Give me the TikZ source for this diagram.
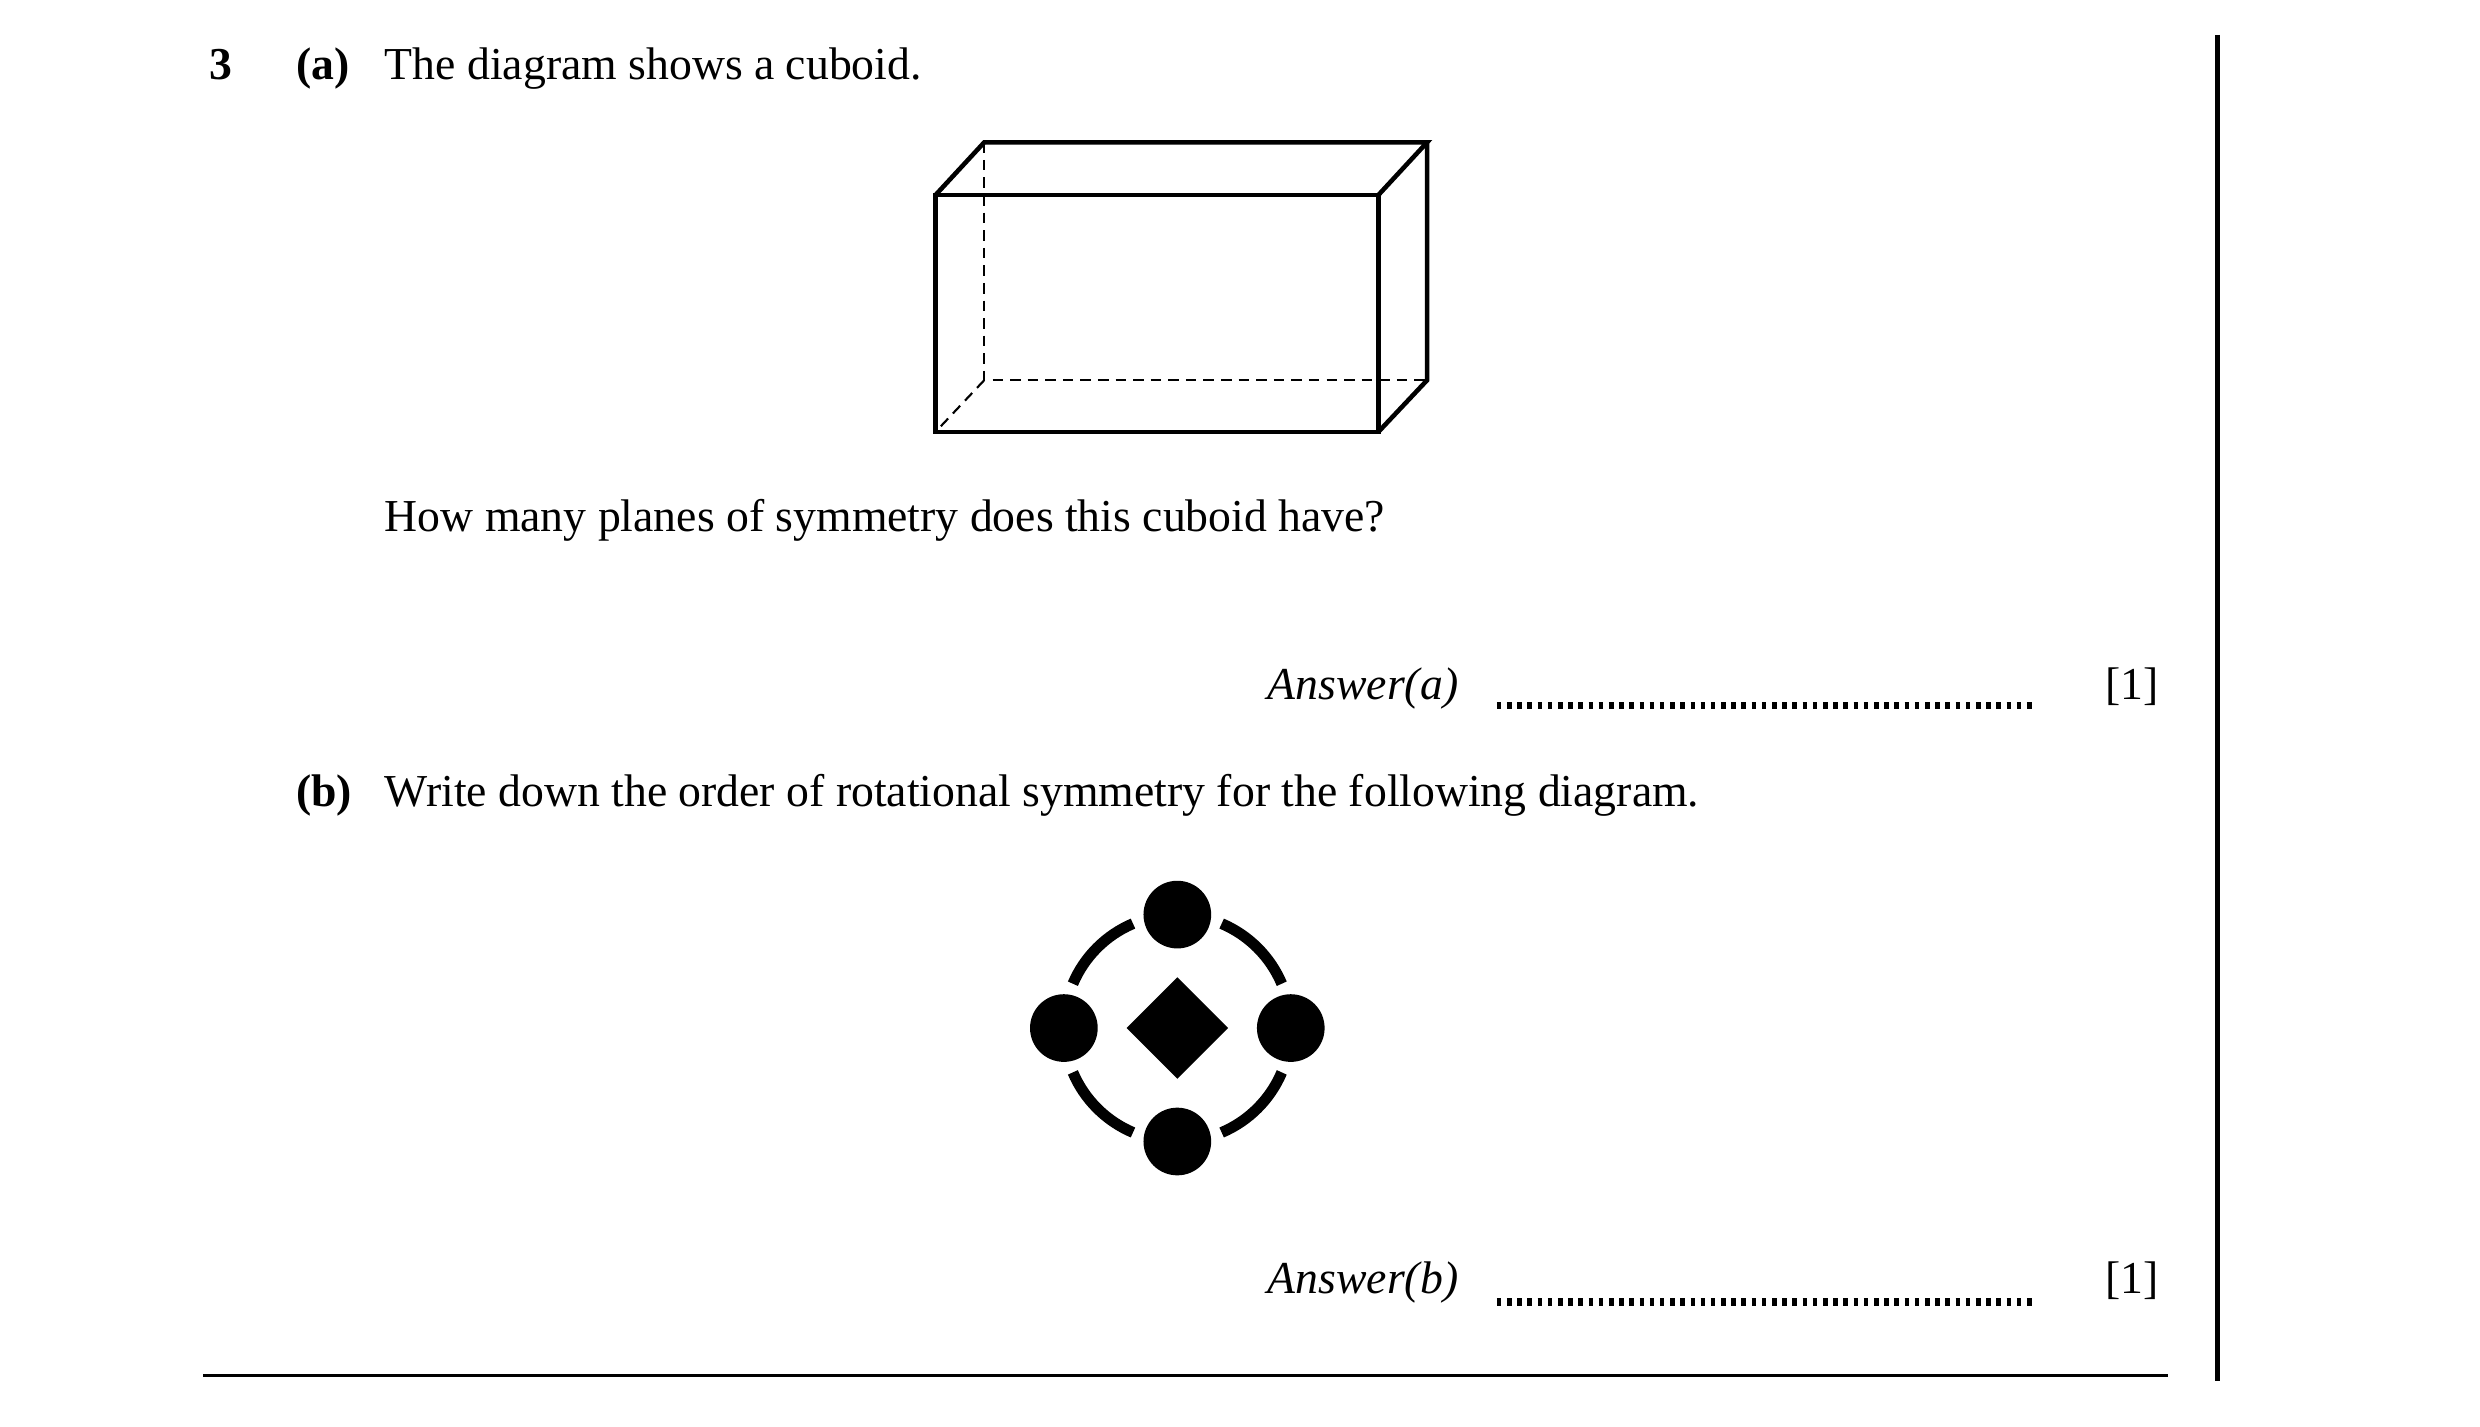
\documentclass[tikz,border=0pt]{standalone}
\usepackage{fontspec}
\setmainfont{Liberation Serif}
\usetikzlibrary{positioning}
\tikzset{
  txt/.style={anchor=base west,font=\fontsize{13}{15}\selectfont,inner sep=0pt},
  ans/.style={anchor=base east,font=\fontsize{13}{15}\selectfont\itshape,inner sep=0pt},
  dots/.style={line width=2.2pt,dash pattern=on 1.3pt off 1.6pt},
  hidden/.style={densely dashed,line width=0.6pt},
  edge/.style={line width=1.3pt,line join=miter}
}
\begin{document}
\begin{tikzpicture}[x=0.00995cm,y=-0.00995cm]
  \useasboundingbox (0,0) rectangle (2492,1433);
  \node [txt,font=\fontsize{13}{15}\selectfont\bfseries] (qn) at (210,80) {3};
  \node [txt,font=\fontsize{13}{15}\selectfont\bfseries] (pa) at (297,80) {(a)};
  \node [txt] (ta) at (386,80) {The diagram shows a cuboid.};
  % cuboid
  \draw [edge] (940,196) rectangle (1385,434);
  \draw [edge] (940,196) -- (989,143) -- (1434,143) -- (1385,196);
  \draw [edge] (1434,143) -- (1434,382) -- (1385,434);
  \draw [hidden] (989,143) -- (989,382) -- (1434,382);
  \draw [hidden] (989,382) -- (940,434);
  \node [txt] (qa) at (386,534) {How many planes of symmetry does this cuboid have?};
  \node [ans] (aa) at (1466,703) {Answer(a)};
  \draw [dots] (1504,709) -- (2045,709);
  \node [txt,anchor=base east] (ma) at (2170,703) {[1]};
  \node [txt,font=\fontsize{13}{15}\selectfont\bfseries] (pb) at (297,810) {(b)};
  \node [txt] (tb) at (386,810) {Write down the order of rotational symmetry for the following diagram.};
  % symbol
  \begin{scope}[shift={(1183,1033)}]
    \foreach \a in {0,90,180,270} {
      \fill (\a:114) circle (34);
      \draw [line width=3.1pt] (\a+23:114) arc (\a+23:\a+67:114);
    }
    \fill (51,0) -- (0,51) -- (-51,0) -- (0,-51) -- cycle;
  \end{scope}
  \node [ans] (ab) at (1466,1300) {Answer(b)};
  \draw [dots] (1504,1308) -- (2045,1308);
  \node [txt,anchor=base east] (mb) at (2170,1300) {[1]};
  \draw [line width=0.8pt] (204,1382) -- (2178,1382);
  \draw [line width=1.5pt] (2228,35) -- (2228,1388);
\end{tikzpicture}
\end{document}
